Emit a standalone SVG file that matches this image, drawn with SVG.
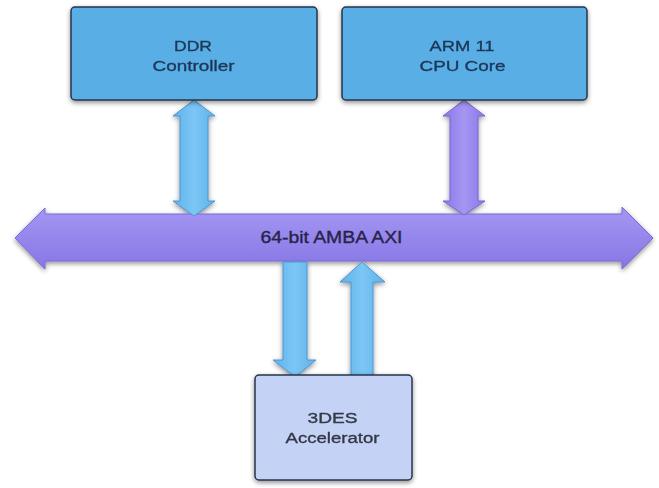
<svg xmlns="http://www.w3.org/2000/svg" width="659" height="488" viewBox="0 0 659 488">
<defs>
<filter id="sh" x="-10%" y="-10%" width="120%" height="130%">
<feGaussianBlur in="SourceAlpha" stdDeviation="2.5"/>
<feOffset dx="0" dy="2" result="b"/>
<feComponentTransfer><feFuncA type="linear" slope="0.45"/></feComponentTransfer>
<feMerge><feMergeNode/><feMergeNode in="SourceGraphic"/></feMerge>
</filter>
<linearGradient id="gbus" x1="0" y1="0" x2="0" y2="1">
<stop offset="0" stop-color="#a497f2"/>
<stop offset="1" stop-color="#8776e6"/>
</linearGradient>
<linearGradient id="gblue" x1="0" y1="0" x2="1" y2="0">
<stop offset="0" stop-color="#5eb3ea"/>
<stop offset="0.5" stop-color="#7cc6f5"/>
<stop offset="1" stop-color="#5eb3ea"/>
</linearGradient>
<linearGradient id="gpurp" x1="0" y1="0" x2="1" y2="0">
<stop offset="0" stop-color="#8a78e8"/>
<stop offset="0.5" stop-color="#a596f3"/>
<stop offset="1" stop-color="#8a78e8"/>
</linearGradient>
</defs>
<style>
.box{fill:#5aaee6;stroke:#26344a;stroke-width:1.5}
.box2{fill:#c4d2f6;stroke:#26344a;stroke-width:1.5}
.t{font-family:"Liberation Sans",Arial,sans-serif;font-size:15.5px;fill:#1d3756;stroke:#1d3756;stroke-width:0.35;text-anchor:middle}
.t2{font-family:"Liberation Sans",Arial,sans-serif;font-size:15.5px;fill:#333844;stroke:#333844;stroke-width:0.35;text-anchor:middle}
.tb{font-family:"Liberation Sans",Arial,sans-serif;font-size:16px;fill:#28234a;stroke:#28234a;stroke-width:0.35;text-anchor:middle}
.ab{fill:url(#gblue);stroke:#4d94d4;stroke-width:1}
.ap{fill:url(#gpurp);stroke:#7565d6;stroke-width:1}
.bus{fill:url(#gbus);stroke:#7a69dc;stroke-width:1}
</style>
<rect width="659" height="488" fill="#ffffff"/>
<g id="connectors" filter="url(#sh)">
<path id="bus" class="bus" d="M15,238 L45,208 L45,214 L622,214 L622,207 L653,238 L622,269 L622,261 L45,261 L45,269 Z"/>
<path id="ddr-link" class="ab" d="M194,100 L215,116 L208,116 L208,201 L215,201 L194,216 L173,201 L180,201 L180,116 L173,116 Z"/>
<path id="arm-link" class="ap" d="M464,100 L485,116 L478,116 L478,201 L485,201 L464,215 L443,201 L450,201 L450,116 L443,116 Z"/>
<path id="bus-to-3des" class="ab" d="M283,262 L307,262 L307,360 L316,360 L295,377 L273,360 L283,360 Z"/>
<path id="3des-to-bus" class="ab" d="M362,262 L385,282 L373,282 L373,376 L351,376 L351,282 L340,282 Z"/>
</g>
<text class="tb" x="331.5" y="243" textLength="142" lengthAdjust="spacingAndGlyphs">64-bit AMBA AXI</text>
<g id="ddr" filter="url(#sh)">
<rect class="box" x="71" y="7" width="246" height="93" rx="4"/>
<text class="t" x="193" y="51" textLength="38" lengthAdjust="spacingAndGlyphs">DDR</text>
<text class="t" x="193.5" y="71" textLength="82" lengthAdjust="spacingAndGlyphs">Controller</text>
</g>
<g id="arm" filter="url(#sh)">
<rect class="box" x="342" y="7" width="245" height="93" rx="4"/>
<text class="t" x="462" y="51" textLength="65" lengthAdjust="spacingAndGlyphs">ARM 11</text>
<text class="t" x="462.5" y="71" textLength="86" lengthAdjust="spacingAndGlyphs">CPU Core</text>
</g>
<g id="des" filter="url(#sh)">
<rect class="box2" x="255" y="375" width="157" height="105" rx="4"/>
<text class="t2" x="332.5" y="423" textLength="50" lengthAdjust="spacingAndGlyphs">3DES</text>
<text class="t2" x="332.5" y="443" textLength="94" lengthAdjust="spacingAndGlyphs">Accelerator</text>
</g>
</svg>
